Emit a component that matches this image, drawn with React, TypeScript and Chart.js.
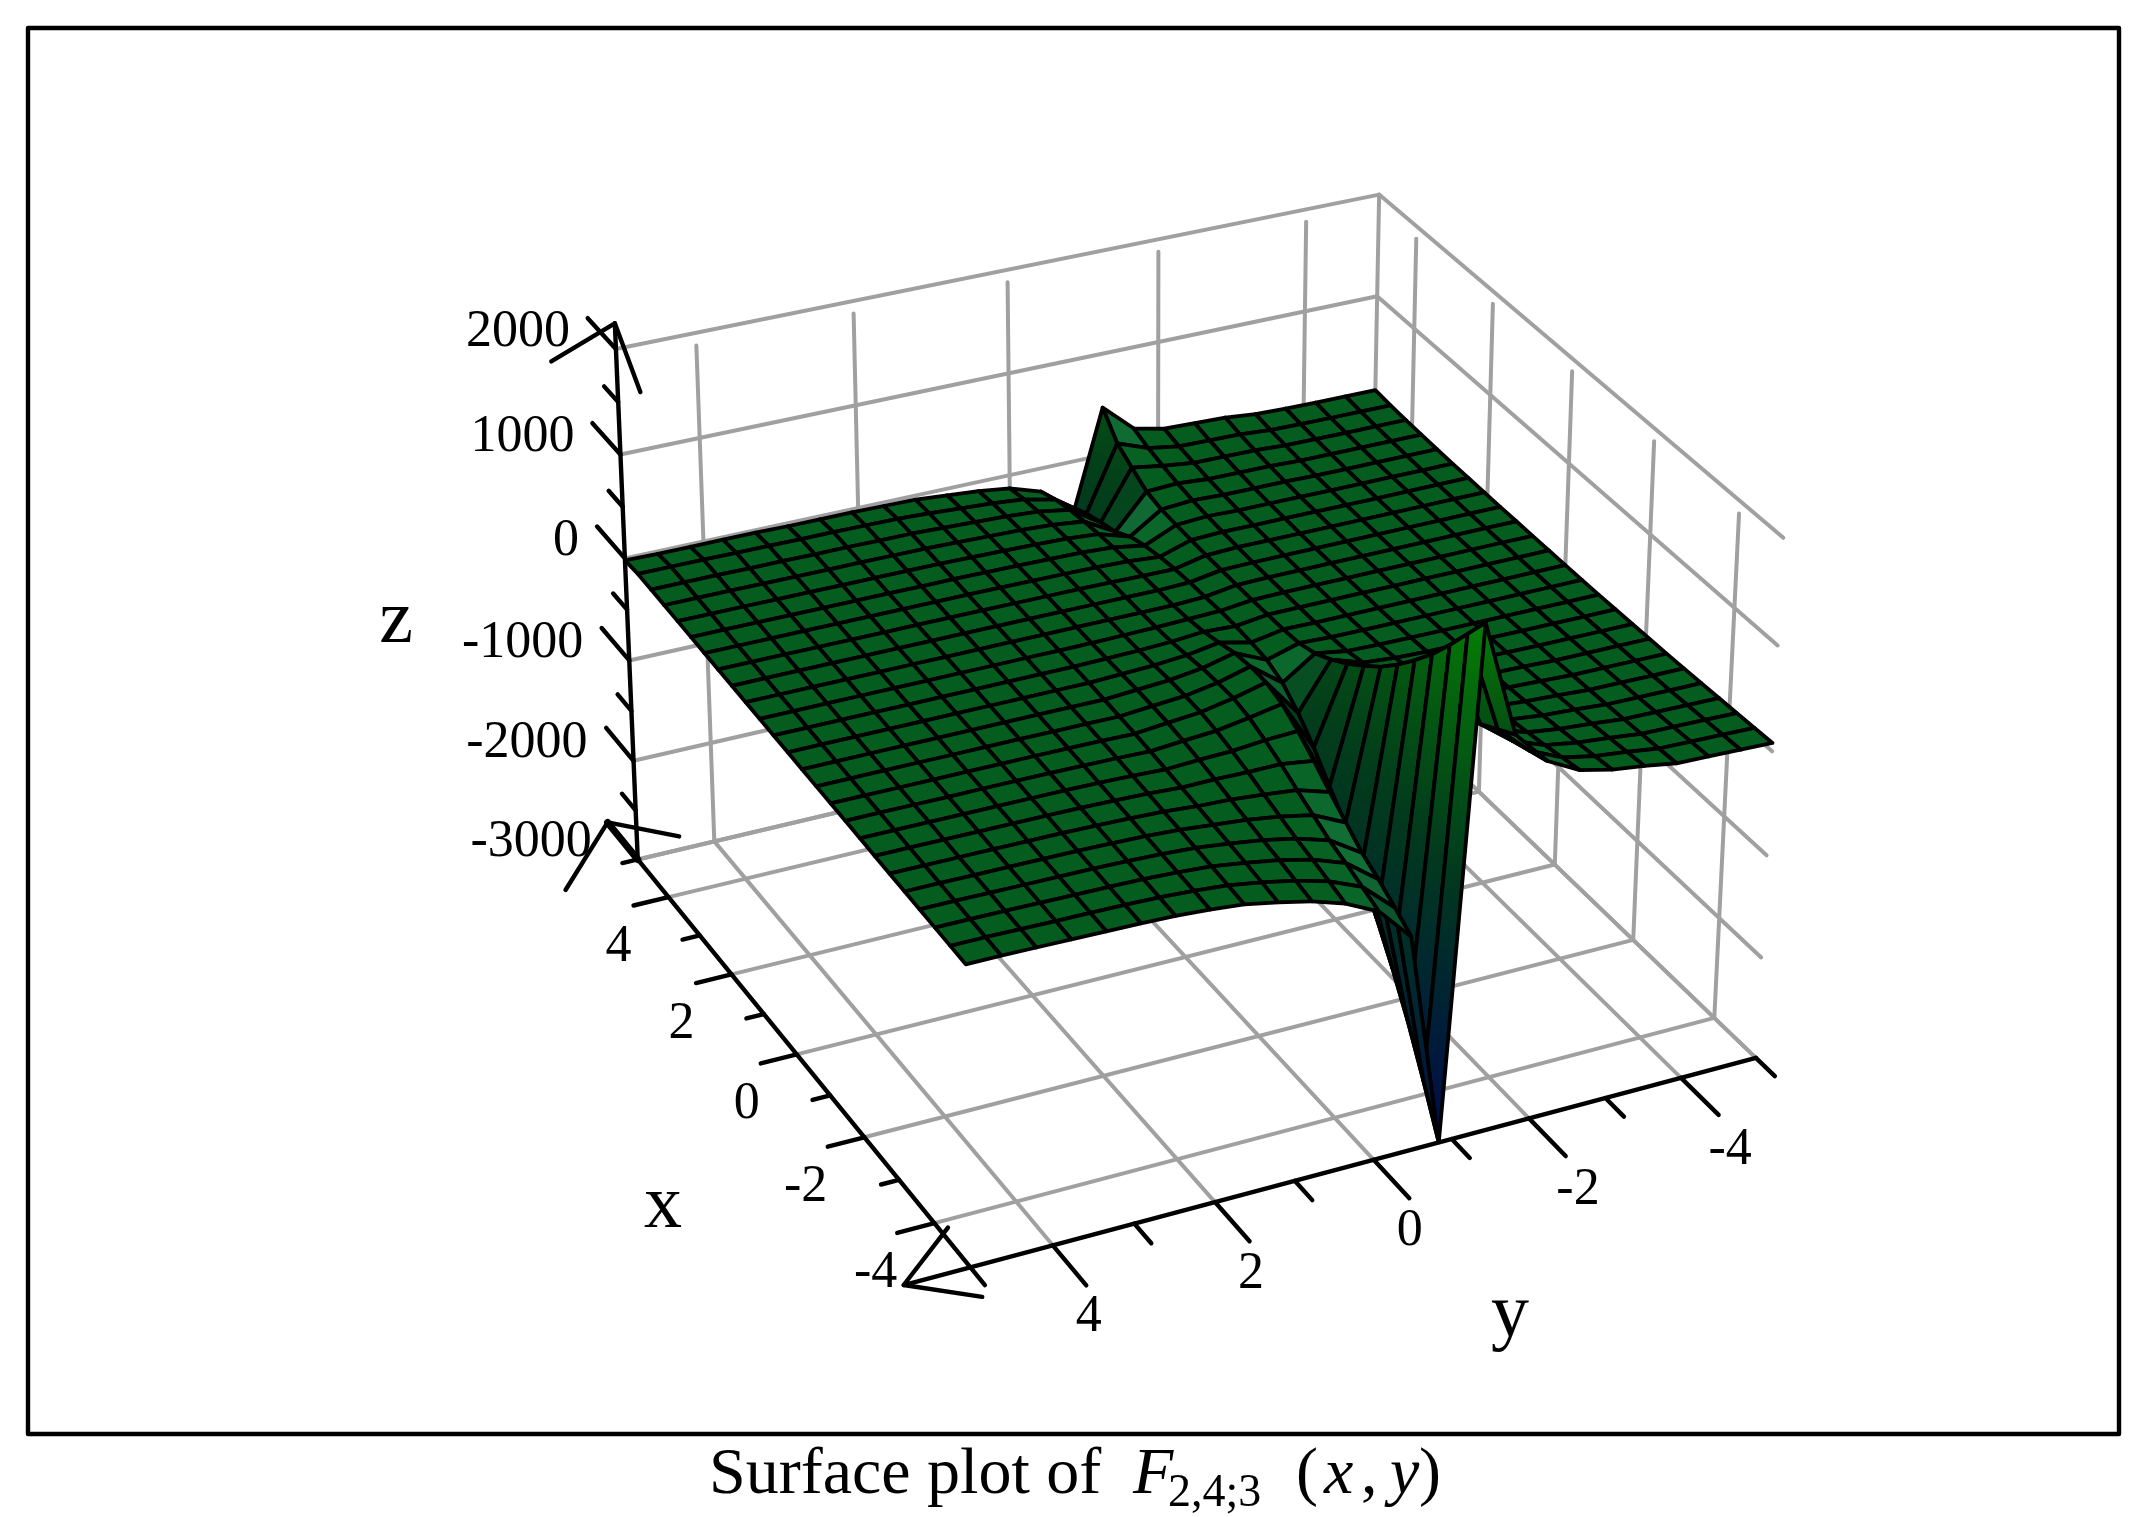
import React, { useEffect, useRef } from 'react'
import { Chart, registerables } from 'chart.js'

Chart.register(...registerables)

const WIDTH = 2146
const HEIGHT = 1517

// sample positions of the mesh, x runs from the back wall to the front
const xSamples = [5, 4.583, 4.167, 3.75, 3.333, 2.917, 2.5, 2.083, 1.667, 1.25, 0.833, 0.417, 0, -0.417, -0.833, -1.25, -1.667, -2.083, -2.5, -2.917, -3.333, -3.75, -4.167, -4.583, -5]
const ySamples = [5, 4.583, 4.167, 3.75, 3.333, 2.917, 2.5, 2.083, 1.667, 1.25, 0.833, 0.417, 0, -0.417, -0.833, -1.25, -1.667, -2.083, -2.5, -2.917, -3.333, -3.75, -4.167, -4.583, -5]

// one row per x sample, one column per y sample
const surfaceZ = [
  [-20, -25, -25, -25, -25, -30, -30, -30, -35, -40, -65, -90, -130, -230, -555, 470, 200, 130, 120, 110, 80, 70, 65, 62, 60],
  [-6, -6, -6, -10, -10, -13, -13, -16, -20, -34, -52, -69, -97, -167, -375, 255, 143, 94, 87, 80, 59, 52, 48, 46, 45],
  [-12, -12, -12, -15, -15, -17, -17, -20, -22, -32, -45, -57, -77, -127, -320, 155, 105, 70, 65, 60, 45, 40, 38, 36, 35],
  [-17, -17, -17, -19, -19, -21, -21, -22, -24, -31, -40, -49, -64, -100, -270, 60, 73, 50, 46, 43, 33, 30, 28, 27, 27],
  [-23, -23, -23, -24, -24, -26, -26, -27, -28, -33, -39, -46, -56, -81, -175, 25, 48, 34, 32, 30, 24, 22, 21, 20, 20],
  [-29, -29, -29, -30, -30, -31, -31, -32, -32, -36, -40, -44, -51, -68, -120, 15, 33, 24, 23, 22, 18, 17, 17, 16, 16],
  [-35, -35, -35, -35, -35, -36, -36, -37, -37, -39, -42, -45, -49, -60, -85, 10, 23, 18, 18, 17, 15, 14, 14, 14, 14],
  [-41, -41, -41, -41, -41, -42, -42, -42, -42, -44, -46, -47, -50, -57, -60, 5, 16, 14, 13, 13, 12, 12, 12, 12, 12],
  [-47, -47, -47, -47, -47, -47, -47, -47, -48, -48, -49, -50, -51, -54, -45, 5, 10, 10, 10, 10, 10, 10, 10, 10, 10],
  [-52, -52, -52, -52, -52, -52, -52, -52, -52, -52, -52, -52, -52, -52, -40, 5, 10, 10, 10, 10, 10, 10, 10, 10, 10],
  [-58, -58, -58, -58, -58, -58, -58, -58, -58, -58, -58, -53, -48, -38, -30, 5, 10, 10, 10, 10, 10, 10, 10, 10, 10],
  [-64, -64, -64, -64, -64, -64, -64, -64, -64, -64, -59, -52, -39, -14, -30, 10, 10, 10, 10, 10, 10, 10, 10, 10, 10],
  [-70, -70, -70, -70, -70, -70, -70, -70, -70, -70, -58, -45, -20, 30, -40, 15, 10, 10, 10, 10, 10, 10, 10, 10, 10],
  [-76, -76, -76, -76, -76, -76, -77, -77, -78, -79, -58, -37, 5, 78, -60, 30, 17, 14, 13, 12, 12, 11, 11, 11, 11],
  [-82, -82, -82, -82, -83, -83, -84, -85, -86, -89, -63, -38, 15, 99, -130, 80, 32, 23, 18, 16, 15, 13, 13, 12, 12],
  [-87, -87, -88, -88, -89, -89, -90, -92, -95, -101, -71, -43, 17, 95, -270, 170, 69, 44, 31, 25, 22, 18, 17, 16, 16],
  [-93, -93, -94, -95, -95, -96, -98, -101, -106, -115, -90, -68, -17, 42, -450, 280, 114, 69, 46, 37, 31, 24, 23, 21, 20],
  [-99, -99, -100, -101, -103, -104, -106, -111, -118, -133, -117, -108, -79, -66, -670, 410, 165, 98, 65, 50, 42, 31, 29, 27, 25],
  [-105, -105, -107, -108, -110, -111, -115, -121, -131, -150, -147, -154, -152, -195, -880, 550, 225, 132, 85, 65, 54, 39, 36, 33, 30],
  [-111, -111, -113, -115, -117, -119, -124, -132, -145, -170, -184, -211, -244, -339, -1170, 720, 291, 170, 109, 82, 67, 48, 44, 40, 37],
  [-117, -117, -120, -122, -125, -127, -133, -143, -159, -190, -219, -263, -326, -473, -1470, 910, 365, 212, 135, 101, 82, 58, 53, 48, 44],
  [-122, -122, -125, -128, -131, -134, -141, -153, -172, -209, -252, -314, -407, -606, -1790, 1116, 454, 262, 166, 124, 100, 70, 64, 58, 52],
  [-128, -128, -132, -135, -139, -143, -150, -165, -186, -230, -281, -354, -464, -697, -2150, 1350, 543, 312, 197, 147, 118, 82, 75, 68, 60],
  [-134, -134, -138, -143, -147, -151, -160, -177, -203, -254, -315, -401, -530, -805, -2560, 1600, 646, 371, 234, 173, 139, 96, 87, 79, 70],
  [-140, -140, -145, -150, -155, -160, -170, -190, -220, -280, -350, -450, -600, -920, -3000, 1850, 750, 430, 270, 200, 160, 110, 100, 90, 80],
]

const xMajorTicks = [4, 2, 0, -2, -4]
const xMinorTicks = [3, 1, -1, -3]
const yMajorTicks = [4, 2, 0, -2, -4]
const yMinorTicks = [3, 1, -1, -3]
const zMajorTicks = [2000, 1000, 0, -1000, -2000, -3000]
const zMinorTicks = [1500, 500, -500, -1500, -2500]

const X_MIN = -5
const X_MAX = 5
const Y_MIN = -5
const Y_MAX = 5
const Z_MIN = -3000
const Z_MAX = 2000
const WALL_TOP = 1880 // the wall verticals stop a little short of the top rail

// perspective camera: columns are origin, x edge, y edge, z edge
const camX = [466, 183.3, 590.7, -34.6]
const camY = [628, 220, -100.9, -383.6]
const camW = [1, -0.0842, 0.0507, -0.04142]
const CAM_SKEW = -5 // pulls the far corner in, the plain camera lands it 5 units too far right
const CAM_SCALE = 1.3686

const MESH_WIDTH = 3.8
const AXIS_WIDTH = 4.4
const GRID_WIDTH = 4
const GRID_GRAY = '#a0a0a0'
const FLAT_GREEN: RGB = [4, 93, 30]
const BUMP_GREEN: RGB = [18, 112, 55]

type RGB = [number, number, number]
type P3 = [number, number, number]

const project = ([x, y, z]: P3) => {
  const u = (X_MAX - x) / (X_MAX - X_MIN)
  const v = (Y_MAX - y) / (Y_MAX - Y_MIN)
  const t = (z - Z_MIN) / (Z_MAX - Z_MIN)
  const w = camW[0] + camW[1] * u + camW[2] * v + camW[3] * t
  return {
    x: (CAM_SCALE * (camX[0] + camX[1] * u + camX[2] * v + camX[3] * t)) / w + CAM_SCALE * CAM_SKEW * (1 - u) * v,
    y: (CAM_SCALE * (camY[0] + camY[1] * u + camY[2] * v + camY[3] * t)) / w,
  }
}

const mix = (a: RGB, b: RGB, k: number): RGB => [
  a[0] + (b[0] - a[0]) * k,
  a[1] + (b[1] - a[1]) * k,
  a[2] + (b[2] - a[2]) * k,
]
const css = (c: RGB) => `rgb(${Math.round(c[0])},${Math.round(c[1])},${Math.round(c[2])})`

// colour of the steep faces against height
const rampZ = [-3000, -2000, -1000, 0, 1000, 1850]
const rampColor: RGB[] = [[0, 10, 75], [0, 35, 55], [0, 48, 35], [3, 65, 25], [5, 90, 15], [5, 125, 5]]
const ramp = (z: number): RGB => {
  for (let i = 1; i < rampZ.length; i++) {
    if (z <= rampZ[i]) return mix(rampColor[i - 1], rampColor[i], Math.max(0, (z - rampZ[i - 1]) / (rampZ[i] - rampZ[i - 1])))
  }
  return rampColor[rampColor.length - 1]
}

const line = (pts: P3[], color: string, width: number) => ({
  data: pts.map(project),
  showLine: true,
  borderColor: color,
  borderWidth: width,
  borderCapStyle: 'round',
  borderJoinStyle: 'round',
  pointRadius: 0,
  fill: false,
  clip: false,
})

const grayLines = () => {
  const out: any[] = []
  const xs = [...xMajorTicks]
  const ys = [...yMajorTicks]
  // floor
  xs.forEach(x => out.push(line([[x, Y_MAX, Z_MIN], [x, Y_MIN, Z_MIN]], GRID_GRAY, GRID_WIDTH)))
  ys.forEach(y => out.push(line([[X_MIN, y, Z_MIN], [X_MAX, y, Z_MIN]], GRID_GRAY, GRID_WIDTH)))
  out.push(line([[X_MAX, Y_MAX, Z_MIN], [X_MAX, Y_MIN, Z_MIN], [X_MIN, Y_MIN, Z_MIN]], GRID_GRAY, GRID_WIDTH))
  // the two back walls
  zMajorTicks.forEach(z => out.push(line([[X_MAX, Y_MAX, z], [X_MAX, Y_MIN, z], [X_MIN, Y_MIN, z]], GRID_GRAY, GRID_WIDTH)))
  ys.forEach(y => out.push(line([[X_MAX, y, Z_MIN], [X_MAX, y, WALL_TOP]], GRID_GRAY, GRID_WIDTH)))
  xs.forEach(x => out.push(line([[x, Y_MIN, Z_MIN], [x, Y_MIN, WALL_TOP]], GRID_GRAY, GRID_WIDTH)))
  out.push(line([[X_MAX, Y_MIN, Z_MIN], [X_MAX, Y_MIN, Z_MAX]], GRID_GRAY, GRID_WIDTH))
  return out
}

const surfaceFaces = (ctx: CanvasRenderingContext2D) => {
  const out: any[] = []
  // far cells first so nearer ones paint over them
  for (let i = 0; i < xSamples.length - 1; i++) {
    for (let j = ySamples.length - 2; j >= 0; j--) {
      const corners: P3[] = [
        [xSamples[i], ySamples[j], surfaceZ[i][j]],
        [xSamples[i], ySamples[j + 1], surfaceZ[i][j + 1]],
        [xSamples[i + 1], ySamples[j + 1], surfaceZ[i + 1][j + 1]],
        [xSamples[i + 1], ySamples[j], surfaceZ[i + 1][j]],
      ]
      const zs = corners.map(c => c[2])
      const lo = Math.min(...zs)
      const hi = Math.max(...zs)
      const range = hi - lo
      const avg = zs.reduce((a, b) => a + b, 0) / 4
      let fillColor: any
      if (range > 500) {
        const a = project(corners[zs.indexOf(lo)])
        const b = project(corners[zs.indexOf(hi)])
        const g = ctx.createLinearGradient(a.x, a.y, b.x, b.y)
        g.addColorStop(0, css(ramp(lo)))
        g.addColorStop(0.5, css(ramp((lo + hi) / 2)))
        g.addColorStop(1, css(ramp(hi)))
        fillColor = g
      } else {
        const lit = mix(FLAT_GREEN, BUMP_GREEN, Math.max(0, Math.min(1, (range - 110) / 200)))
        fillColor = css(range > 300 ? mix(lit, ramp(avg), (range - 300) / 200) : lit)
      }
      out.push({
        ...line([...corners, corners[0]], '#000000', MESH_WIDTH),
        fill: 'shape',
        backgroundColor: fillColor,
      })
    }
  }
  return out
}

const axisLines = () => {
  const out: any[] = []
  const black = '#000000'
  const ink = (pts: P3[], w = AXIS_WIDTH) => out.push(line(pts, black, w))
  // axes
  ink([[X_MAX, Y_MAX, Z_MIN], [X_MAX, Y_MAX, 2240]])
  ink([[6, Y_MAX, Z_MIN], [-5.4, Y_MAX, Z_MIN]])
  ink([[X_MIN, 5.8, Z_MIN], [X_MIN, Y_MIN, Z_MIN]])
  // ticks
  zMajorTicks.forEach(z => ink([[X_MAX, Y_MAX, z], [5.9, Y_MAX, z]]))
  zMinorTicks.forEach(z => ink([[X_MAX, Y_MAX, z], [5.45, Y_MAX, z]]))
  xMajorTicks.forEach(x => ink([[x, Y_MAX, Z_MIN], [x, 5.45, Z_MIN]]))
  xMinorTicks.forEach(x => ink([[x, Y_MAX, Z_MIN], [x, 5.22, Z_MIN]]))
  ink([[X_MAX, Y_MAX, Z_MIN], [X_MAX, 5.2, Z_MIN]])
  yMajorTicks.forEach(y => ink([[X_MIN, y, Z_MIN], [-5.9, y, Z_MIN]]))
  yMinorTicks.forEach(y => ink([[X_MIN, y, Z_MIN], [-5.45, y, Z_MIN]]))
  ink([[X_MIN, Y_MIN, Z_MIN], [-5.45, Y_MIN, Z_MIN]])
  // arrow barbs at the axis ends
  ink([[X_MAX, 5.8, 2005], [X_MAX, Y_MAX, 2240], [X_MAX, 4.72, 1550]])
  ink([[4.7, 6.05, Z_MIN], [6, Y_MAX, Z_MIN], [5.3, 4.34, Z_MIN]])
  ink([[X_MAX, Y_MAX, Z_MIN], [6, Y_MAX, Z_MIN]], 7)
  ink([[-4.15, 4.9, Z_MIN], [X_MIN, 5.8, Z_MIN], [-5.6, 5.12, Z_MIN]])
  return out
}

// page frame, in canvas units
const frameX = [28, 2119, 2119, 28, 28]
const frameY = [28, 28, 1434, 1434, 28]

const SERIF = '"Liberation Serif"'

const titleParts = [
  { text: 'Surface plot of', font: `66px ${SERIF}`, x: 709, y: 1493 },
  { text: 'F', font: `italic 66px ${SERIF}`, x: 1133, y: 1493 },
  { text: '2,4;3', font: `46px ${SERIF}`, x: 1168, y: 1506 },
  { text: '(', font: `66px ${SERIF}`, x: 1296, y: 1493 },
  { text: 'x', font: `italic 66px ${SERIF}`, x: 1324, y: 1493 },
  { text: ',', font: `66px ${SERIF}`, x: 1361, y: 1493 },
  { text: 'y', font: `italic 66px ${SERIF}`, x: 1390, y: 1493 },
  { text: ')', font: `66px ${SERIF}`, x: 1419, y: 1493 },
]

const axisNames = [
  { text: 'z', x: 396, y: 622 },
  { text: 'x', x: 663, y: 1207 },
  { text: 'y', x: 1510, y: 1316 },
]

const textPlugin = {
  id: 'plotText',
  afterDatasetsDraw(chart: any) {
    const { ctx, scales } = chart
    const at = (p: { x: number; y: number }) => ({
      x: scales.x.getPixelForValue(p.x),
      y: scales.y.getPixelForValue(p.y),
    })
    ctx.save()
    ctx.fillStyle = '#000'
    ctx.textBaseline = 'middle'
    ctx.font = `52px ${SERIF}`

    ctx.textAlign = 'right'
    zMajorTicks.forEach(z => {
      const p = at(project([X_MAX, Y_MAX, z]))
      ctx.fillText(String(z), p.x - 46, p.y - 17)
    })
    xMajorTicks.forEach(x => {
      const p = at(project([x, Y_MAX, Z_MIN]))
      ctx.fillText(String(x), p.x - 37, p.y + 50)
    })
    ctx.textAlign = 'center'
    yMajorTicks.forEach(y => {
      const p = at(project([X_MIN, y, Z_MIN]))
      ctx.fillText(String(y), p.x + (y < 0 ? 49 : 36), p.y + 72)
    })

    ctx.font = `76px ${SERIF}`
    axisNames.forEach(n => {
      const p = at(n)
      ctx.fillText(n.text, p.x, p.y)
    })

    ctx.textAlign = 'left'
    ctx.textBaseline = 'alphabetic'
    titleParts.forEach(t => {
      ctx.font = t.font
      const p = at(t)
      ctx.fillText(t.text, p.x, p.y)
    })
    ctx.restore()
  },
}

const App: React.FC = () => {
  const canvasRef = useRef<HTMLCanvasElement>(null)

  useEffect(() => {
    if (!canvasRef.current) return
    const ctx = canvasRef.current.getContext('2d')
    if (!ctx) return

    // the list is drawn last to first by Chart.js, so it is reversed at the end
    const layers = [
      {
        ...line([], '#000000', AXIS_WIDTH),
        data: frameX.map((x, i) => ({ x, y: frameY[i] })),
      },
      ...grayLines(),
      ...surfaceFaces(ctx),
      ...axisLines(),
    ].reverse()

    const chart = new Chart(ctx, {
      type: 'scatter',
      data: { datasets: layers as any },
      plugins: [textPlugin],
      options: {
        animation: false,
        responsive: false,
        devicePixelRatio: 1,
        events: [],
        layout: { padding: 0 },
        plugins: { legend: { display: false }, tooltip: { enabled: false }, title: { display: false } },
        scales: {
          x: { type: 'linear', min: 0, max: WIDTH, display: false },
          y: { type: 'linear', min: 0, max: HEIGHT, reverse: true, display: false },
        },
      },
    })

    return () => {
      chart.destroy()
    }
  }, [])

  return (
    <div style={{ position: 'absolute', left: 0, top: 0, width: WIDTH, height: HEIGHT, background: '#fff' }}>
      <canvas ref={canvasRef} width={WIDTH} height={HEIGHT} style={{ display: 'block' }}></canvas>
    </div>
  )
}

export default App
